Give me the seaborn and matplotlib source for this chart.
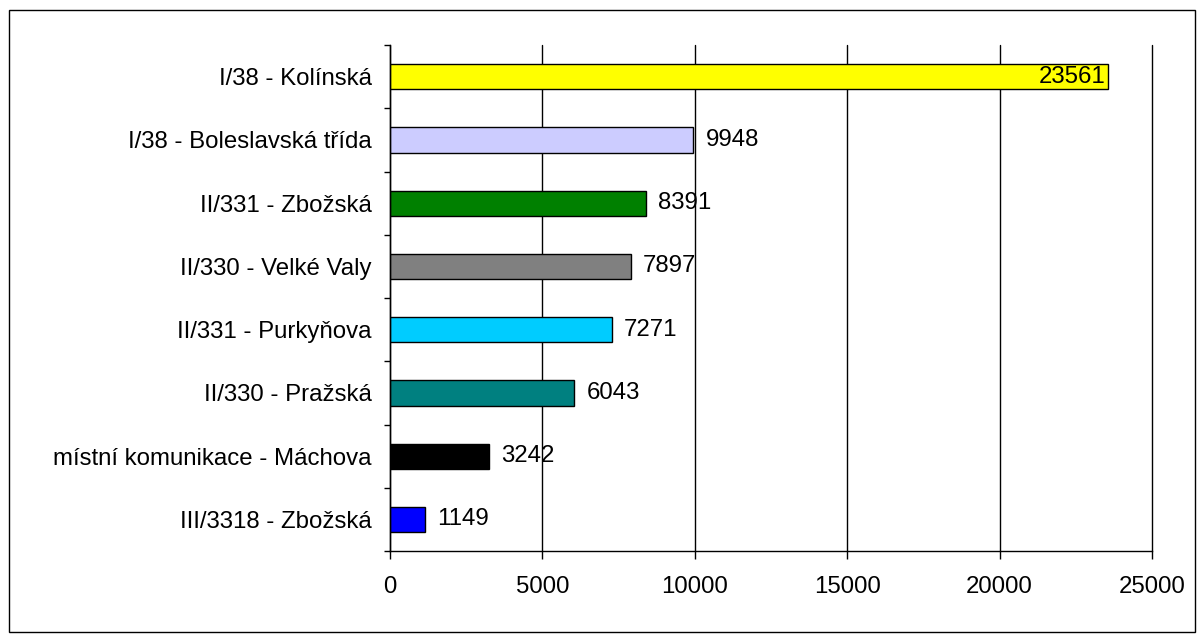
import matplotlib
matplotlib.use("Agg")
import matplotlib.pyplot as plt
import matplotlib.ticker as ticker
from matplotlib.patches import Rectangle
import seaborn as sns
import pandas as pd

roads = [
    "I/38 - Kolínská",
    "I/38 - Boleslavská třída",
    "II/331 - Zbožská",
    "II/330 - Velké Valy",
    "II/331 - Purkyňova",
    "II/330 - Pražská",
    "místní komunikace - Máchova",
    "III/3318 - Zbožská",
]
vehicles = [23561, 9948, 8391, 7897, 7271, 6043, 3242, 1149]
bar_colors = ["#FFFF00", "#CCCCFF", "#008000", "#808080",
              "#00CCFF", "#008080", "#000000", "#0000FF"]
x_ticks = [0, 5000, 10000, 15000, 20000, 25000]

df = pd.DataFrame({"road": roads, "count": vehicles})

sns.set_style("white")
plt.rcParams["font.family"] = ["Liberation Sans", "DejaVu Sans"]
plt.rcParams["text.color"] = "black"

FS = 17.3

fig = plt.figure(figsize=(12.03, 6.36), dpi=100)
ax = fig.add_axes([0.3242, 0.1336, 0.9576 - 0.3242, 0.9292 - 0.1336])

sns.barplot(data=df, x="count", y="road", hue="road", palette=bar_colors,
            orient="h", width=0.4, saturation=1, edgecolor="black",
            linewidth=1, legend=False, ax=ax)

ax.set_xlim(0, 25000)
ax.set_ylim(len(roads) - 0.5, -0.5)
ax.set_xticks(x_ticks)
ax.xaxis.set_major_formatter(ticker.FuncFormatter(lambda v, p: f"{int(v)}"))
ax.set_xlabel("")
ax.set_ylabel("")

ax.grid(axis="x", color="black", linewidth=1)
for gl in ax.get_xgridlines():
    gl.set_clip_on(False)
ax.set_axisbelow(True)
for side in ["top", "right"]:
    ax.spines[side].set_visible(False)
for side in ["left", "bottom"]:
    ax.spines[side].set_color("black")
    ax.spines[side].set_linewidth(1)

ax.tick_params(axis="x", direction="out", length=6, width=1, pad=12,
               labelsize=FS, colors="black", bottom=True)
ax.tick_params(axis="y", which="major", length=0, pad=13, labelsize=FS,
               colors="black")
ax.yaxis.set_minor_locator(ticker.FixedLocator([i - 0.5 for i in range(len(roads) + 1)]))
ax.tick_params(axis="y", which="minor", direction="out", length=4, width=1,
               left=True, color="black")

for i, v in enumerate(vehicles):
    if i == 0:
        ax.annotate(str(v), (v, i), xytext=(-2, 0), textcoords="offset points",
                    ha="right", va="center", fontsize=FS, color="black")
    else:
        ax.annotate(str(v), (v, i), xytext=(9, 0), textcoords="offset points",
                    ha="left", va="center", fontsize=FS, color="black")

fig.patches.append(Rectangle((9 / 1203, 4 / 636), (1195 - 9) / 1203, (626 - 4) / 636,
                             transform=fig.transFigure, fill=False,
                             edgecolor="black", linewidth=1))

fig.savefig("out.png", dpi=100)
